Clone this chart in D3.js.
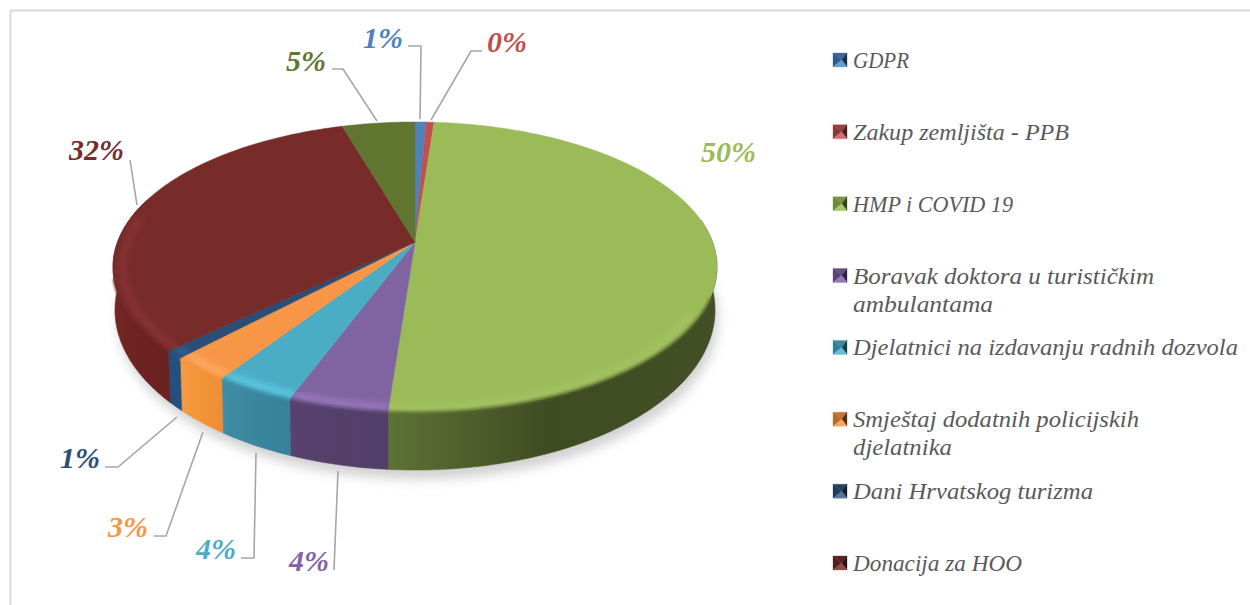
<!DOCTYPE html>
<html>
<head>
<meta charset="utf-8">
<script src="https://cdn.jsdelivr.net/npm/d3@7"></script>
<style>
html,body{margin:0;padding:0;background:#fff;}
svg{display:block;}
text{font-family:"Liberation Serif",serif;font-style:italic;}
</style>
</head>
<body>
<svg id="chart" width="1250" height="605"></svg>
<script>
// ---- data ----
const categories = ["GDPR","Zakup zemljišta - PPB","HMP i COVID 19","Boravak doktora u turističkim ambulantama","Djelatnici na izdavanju radnih dozvola","Smještaj dodatnih policijskih djelatnika","Dani Hrvatskog turizma","Donacija za HOO","Ostalo"];
const legendLines = [["GDPR"],["Zakup zemljišta - PPB"],["HMP i COVID 19"],["Boravak doktora u turističkim","ambulantama"],["Djelatnici na izdavanju radnih dozvola"],["Smještaj dodatnih policijskih","djelatnika"],["Dani Hrvatskog turizma"],["Donacija za HOO"]];
const shares = [0.7,0.5,50.0,4.55,3.65,2.75,0.9,32.35,4.6];
const pctLabels = ["1%","0%","50%","4%","4%","3%","1%","32%","5%"];

// ---- colours ----
const topColors = ["#4f81bd","#c0504d","#9bbb59","#8064a2","#4bacc6","#f79646","#2c4d75","#772c2a","#5f7530"];
const glowColors = ["#4f81bd","#c0504d","#a6c566","#a27cc6","#62d2ec","#ffb36e","#38689f","#8e3634","#5f7530"];
const wallColors = [
  ["#3a5f8c","#3a5f8c","#3a5f8c"],["#8e3b39","#8e3b39","#8e3b39"],
  ["#5e7235","#3f4b22","#434f25"],["#574270","#543f69","#52406a"],
  ["#3f8ca5","#3a869e","#37829a"],["#f59a45","#f39438","#ee8e35"],
  ["#24507f","#24507f","#24507f"],["#732624","#6c2322","#6a2220"],
  ["#465624","#465624","#465624"]];
const swatchColors = [
  ["#3e6797","#2f5a8d","#1b2f47","#6a9bd6"],["#97403d","#8c3a38","#4f1f1e","#d66d6a"],
  ["#7a9546","#6c8a3c","#35431c","#a5c66c"],["#654f80","#5a4676","#2e2340","#9478ba"],
  ["#3a8aa0","#2f8199","#173f4c","#67bcd4"],["#c47434","#b96a28","#5a3210","#f5a663"],
  ["#263f60","#213a59","#10202f","#55759c"],["#5c2221","#551f1e","#2f1010","#8d4a48"]];

// ---- layout ----
const width = 1250, height = 605;
const apex = {x:415, y:242};        // where the slices meet on screen
const persp = {k:0.1724, a:297.5, b:140.7};
const rim = {cx:415, cy:267, rx:302, ry:145};       // projected top outline
const base = {cx:415, cy:310, rx:300, ry:160};      // projected bottom outline
const labelLayout = [[403,48],[487,52],[756,162],[329,571],[236,559],[148,537],[100,468],[124,160],[326,71]];
const legendTextWidths = [[56],[216],[160],[301,140],[385],[286,99],[240],[169]];
const leaders = [
  [[420,119],[421,46],[408,46]],
  [[431,120],[471,51],[482,51]],
  null,
  [[338,471],[334,570]],
  [[256,453],[254,558],[241,558]],
  [[203,432],[166,536],[154,536]],
  [[177,417],[118,467],[105,467]],
  [[137,205],[130,160]],
  [[377,121],[343,69],[332,69]]
];

const svg = d3.select("#chart");
const defs = svg.append("defs");
["blur6:6","blur3:3","blur1:1.2"].forEach(s=>{
  const [id,dev]=s.split(":");
  defs.append("filter").attr("id",id).attr("x","-20%").attr("y","-20%").attr("width","140%").attr("height","140%")
    .append("feGaussianBlur").attr("stdDeviation",dev);
});

const line = d3.line();

// frame
svg.append("path").attr("d",line([[10.5,height],[10.5,10.5],[width,10.5]]))
  .attr("fill","none").attr("stroke","#d9d9d9").attr("stroke-width",2);

// pie geometry through d3.pie, projected in perspective
const arcs = d3.pie().sort(null).value(d=>d)(shares);
const project = a => {
  const u=Math.sin(a), v=Math.cos(a), w=1+persp.k*v;
  return [apex.x+persp.a*u/w, apex.y-persp.b*v/w];
};
const toBase = p => [base.cx+(p[0]-rim.cx)*base.rx/rim.rx, base.cy+(p[1]-rim.cy)*base.ry/rim.ry];
const inset = (p,f) => [rim.cx+(p[0]-rim.cx)*f, rim.cy+(p[1]-rim.cy)*f];
const sampleAngles = (a0,a1) => {
  const n=Math.max(2,Math.ceil(Math.abs(a1-a0)/(Math.PI/180)));
  return d3.range(n+1).map(i=>a0+(a1-a0)*i/n);
};

// shadow
const fullCircle = sampleAngles(0,2*Math.PI).map(project).map(toBase);
svg.append("path").attr("d",line(fullCircle)+"Z").attr("transform","translate(3,9)")
  .attr("fill","#bdbdbd").attr("opacity",0.7).attr("filter","url(#blur6)");

// walls (front half only)
const frontMin=Math.PI*0.45, frontMax=Math.PI*1.6;
arcs.forEach((d,i)=>{
  const a0=Math.max(d.startAngle,frontMin), a1=Math.min(d.endAngle,frontMax);
  if(a1<=a0) return;
  const topEdge=sampleAngles(a0,a1).map(project);
  const xs=d3.extent(topEdge,p=>p[0]);
  const g=defs.append("linearGradient").attr("id","wall"+i).attr("gradientUnits","userSpaceOnUse")
    .attr("x1",xs[0]).attr("x2",xs[1]).attr("y1",0).attr("y2",0);
  wallColors[i].forEach((col,j)=>g.append("stop").attr("offset",j/2).attr("stop-color",col));
  svg.append("path").attr("d",line(topEdge.concat(topEdge.map(toBase).reverse()))+"Z")
    .attr("fill","url(#wall"+i+")").attr("stroke","url(#wall"+i+")").attr("stroke-width",0.6);
});

// top faces
arcs.forEach((d,i)=>{
  const pts=[[apex.x,apex.y]].concat(sampleAngles(d.startAngle,d.endAngle).map(project));
  const dPath=line(pts)+"Z";
  defs.append("clipPath").attr("id","slice"+i).append("path").attr("d",dPath);
  svg.append("path").attr("d",dPath).attr("fill",topColors[i]).attr("stroke",topColors[i]).attr("stroke-width",0.5);
  // rounded bevel highlight near the rim
  const a0=Math.max(d.startAngle,Math.PI*0.66), a1=Math.min(d.endAngle,Math.PI*1.56);
  if(a1>a0){
    const ring=sampleAngles(a0,a1).map(project).map(p=>inset(p,0.968));
    svg.append("g").attr("clip-path","url(#slice"+i+")")
      .append("path").attr("d",line(ring)).attr("fill","none")
      .attr("stroke",glowColors[i]).attr("stroke-width",5).attr("filter","url(#blur3)");
  }
  // soft transition from the face into the wall
  const e0=Math.max(d.startAngle,Math.PI*0.62), e1=Math.min(d.endAngle,Math.PI*1.42);
  if(e1>e0){
    const edge=sampleAngles(e0,e1).map(project);
    svg.append("path").attr("d",line(edge)).attr("fill","none")
      .attr("stroke",d3.interpolateRgb(topColors[i],wallColors[i][1])(0.5))
      .attr("stroke-width",2.5).attr("filter","url(#blur1)");
  }
});

// leader lines
svg.append("g").selectAll("path").data(leaders.filter(Boolean)).join("path")
  .attr("d",d=>line(d)).attr("fill","none").attr("stroke","#a6a6a6").attr("stroke-width",1.6);

// percentage labels
svg.append("g").selectAll("text").data(pctLabels).join("text")
  .attr("x",(d,i)=>labelLayout[i][0]).attr("y",(d,i)=>labelLayout[i][1])
  .attr("text-anchor",(d,i)=>i===1?"start":"end")
  .attr("font-size",30).attr("font-weight","bold")
  .attr("fill",(d,i)=>topColors[i]).text(d=>d);

// legend
const legendY = d3.scalePoint().domain(d3.range(legendLines.length)).range([60,563]);
const swatch = 14, peak = 0.62;
const legend = svg.append("g").selectAll("g").data(legendLines).join("g")
  .attr("transform",(d,i)=>`translate(833,${legendY(i)})`);
legend.each(function(d,i){
  const g=d3.select(this), s=swatch, h=s/2, c=[s*peak,0];
  const tris=[[[0,-h],[s,-h],c],[[0,-h],[0,h],c],[[s,-h],[s,h],c],[[0,h],[s,h],c]];
  tris.forEach((t,j)=>g.append("path").attr("d",line(t)+"Z").attr("fill",swatchColors[i][j]).attr("stroke",swatchColors[i][j]).attr("stroke-width",0.3));
  d.forEach((t,j)=>g.append("text").attr("x",20).attr("y",8+j*28).attr("font-size",24)
    .attr("textLength",legendTextWidths[i][j]).attr("lengthAdjust","spacingAndGlyphs")
    .attr("fill","#595959").text(t));
});
</script>
</body>
</html>
